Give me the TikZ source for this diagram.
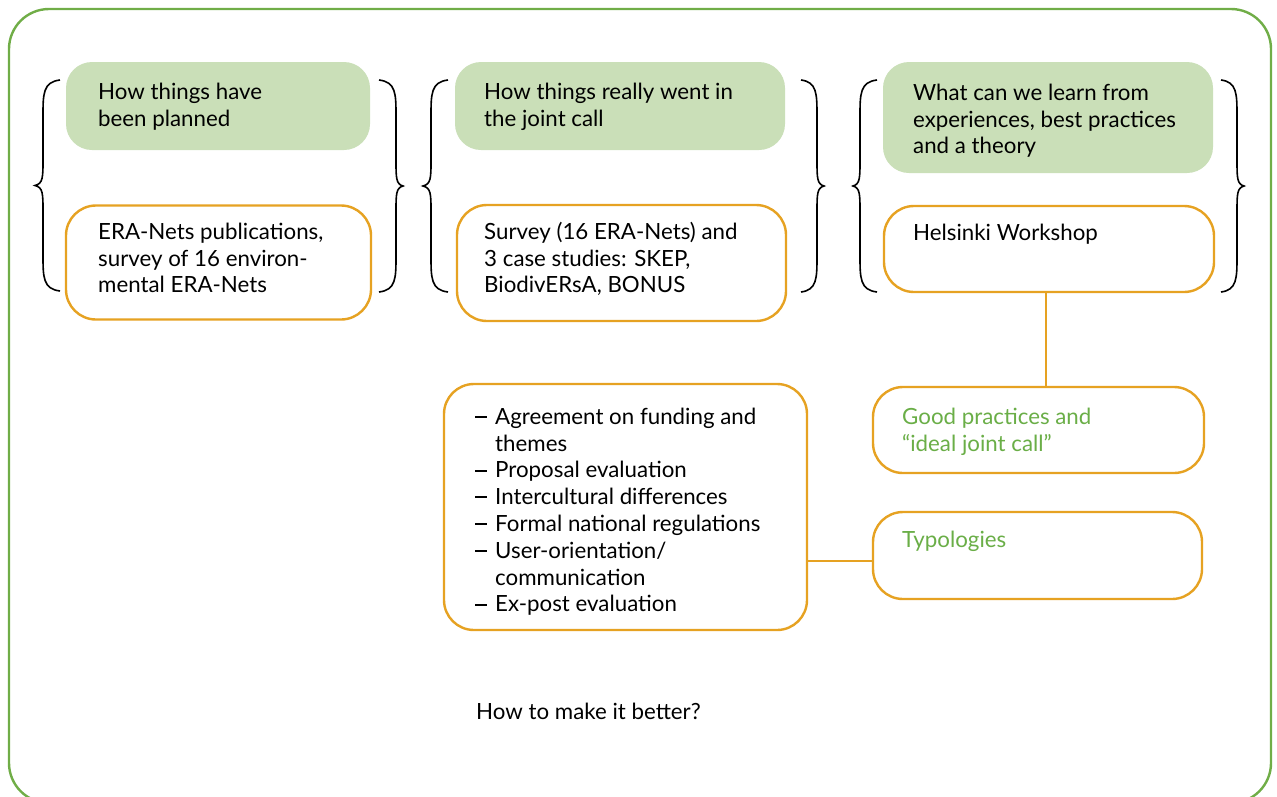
\documentclass[tikz,border=0pt]{standalone}
\usepackage{fontspec}
\setmainfont{Lato}
\definecolor{framegreen}{HTML}{70AD47}
\definecolor{headfill}{HTML}{CADFB8}
\definecolor{boxorange}{HTML}{E6A222}
\definecolor{textgreen}{HTML}{6AAE47}
\newcommand\bodyfont{\fontsize{22.3}{26.8}\selectfont}
\newcommand\itemdash{\makebox[20pt][l]{\rule[6.2pt]{11.5pt}{2pt}}}
% curly brace drawn by hand: #1 end x, #2 spine x, #3 tip x, #4 top y, #5 bottom y
\newcommand\drawbrace[5]{%
  \pgfmathsetmacro\bmid{(#4+#5)/2}%
  \draw[bracestyle] (#1,#4) .. controls (#2,#4+2) and (#2,#4+14) .. (#2,#4+36)
    -- (#2,\bmid-26) .. controls (#2,\bmid-8) and (#2,\bmid-2) .. (#3,\bmid)
    .. controls (#2,\bmid+2) and (#2,\bmid+8) .. (#2,\bmid+26)
    -- (#2,#5-36) .. controls (#2,#5-14) and (#2,#5-2) .. (#1,#5);}
\tikzset{
  frame/.style={draw=framegreen, line width=2.4pt, rounded corners=40pt},
  headbox/.style={fill=headfill, draw=none, rounded corners=26pt, inner sep=0pt},
  ibox/.style={draw=boxorange, line width=2.4pt, fill=white, rounded corners=30pt, inner sep=0pt},
  txt/.style={anchor=north west, inner sep=0pt, align=left, font=\bodyfont},
  gtxt/.style={txt, text=textgreen},
  link/.style={draw=boxorange, line width=2.4pt},
  bracestyle/.style={draw=black, line width=1.6pt},
}
\begin{document}
\begin{tikzpicture}[x=1pt, y=-1pt]
\useasboundingbox (0,0) rectangle (1277,796);
% outer frame (its lower edge runs past the page)
\draw[frame] (9,9) rectangle (1271,803);

% header boxes
\node[headbox, minimum width=304pt, minimum height=88pt] (h1) at (218,106) {};
\node[headbox, minimum width=330pt, minimum height=88pt] (h2) at (620,106) {};
\node[headbox, minimum width=330pt, minimum height=111pt] (h3) at (1048,117.5) {};

% source boxes
\node[ibox, minimum width=305pt, minimum height=114pt] (o1) at (218.5,262.5) {};
\node[ibox, minimum width=329pt, minimum height=116pt] (o2) at (621.5,263) {};
\node[ibox, minimum width=330pt, minimum height=86pt] (o3) at (1049,249) {};

% lower boxes
\node[ibox, minimum width=363pt, minimum height=246pt] (lst) at (625.5,507) {};
\node[ibox, minimum width=331pt, minimum height=86pt] (gp) at (1038.5,430) {};
\node[ibox, minimum width=329pt, minimum height=87pt] (ty) at (1037.5,555.5) {};

% connectors
\coordinate (vx) at (1046,0);
\coordinate (hy) at (0,561);
\draw[link] (o3.south -| vx) -- (gp.north -| vx);
\draw[link] (lst.east |- hy) -- (ty.west |- hy);

% braces round each column
\drawbrace{60}{43}{35}{80}{291}
\drawbrace{379}{396}{403}{80}{292}
\drawbrace{448}{431}{423}{80}{292}
\drawbrace{801}{817}{824}{80}{292}
\drawbrace{877}{860}{853}{80}{292}
\drawbrace{1221}{1237}{1244}{80}{292}

% texts
\node[txt] (t1) at (98,{99-18.76}) {\strut How things have\\been planned};
\node[txt] (t2) at (484,{99-18.76}) {\strut How things really went in\\the joint call};
\node[txt] (t3) at (913,{100-18.76}) {\strut What can we learn from\\experiences, best practices\\and a theory};
\node[txt] (t4) at (98,{239-18.76}) {\strut ERA-Nets publications,\\survey of 16 environ-\\mental ERA-Nets};
\node[txt] (t5) at (484,{239-18.76}) {\strut Survey (16 ERA-Nets) and\\3 case studies: SKEP,\\BiodivERsA, BONUS};
\node[txt] (t6) at (913,{240-18.76}) {\strut Helsinki Workshop};
\node[txt] (t7) at (475,{424-18.76}) {\strut\itemdash Agreement on funding and\\
  \hspace*{20pt}themes\\
  \itemdash Proposal evaluation\\
  \itemdash Intercultural differences\\
  \itemdash Formal national regulations\\
  \itemdash User-orientation/\\
  \hspace*{20pt}communication\\
  \itemdash Ex-post evaluation};
\node[gtxt] (t8) at (902,{424-18.76}) {\strut Good practices and\\“ideal joint call”};
\node[gtxt] (t9) at (902,{547-18.76}) {\strut Typologies};
\node[txt] (t10) at (476,{719-18.76}) {\strut How to make it better?};
\end{tikzpicture}
\end{document}
